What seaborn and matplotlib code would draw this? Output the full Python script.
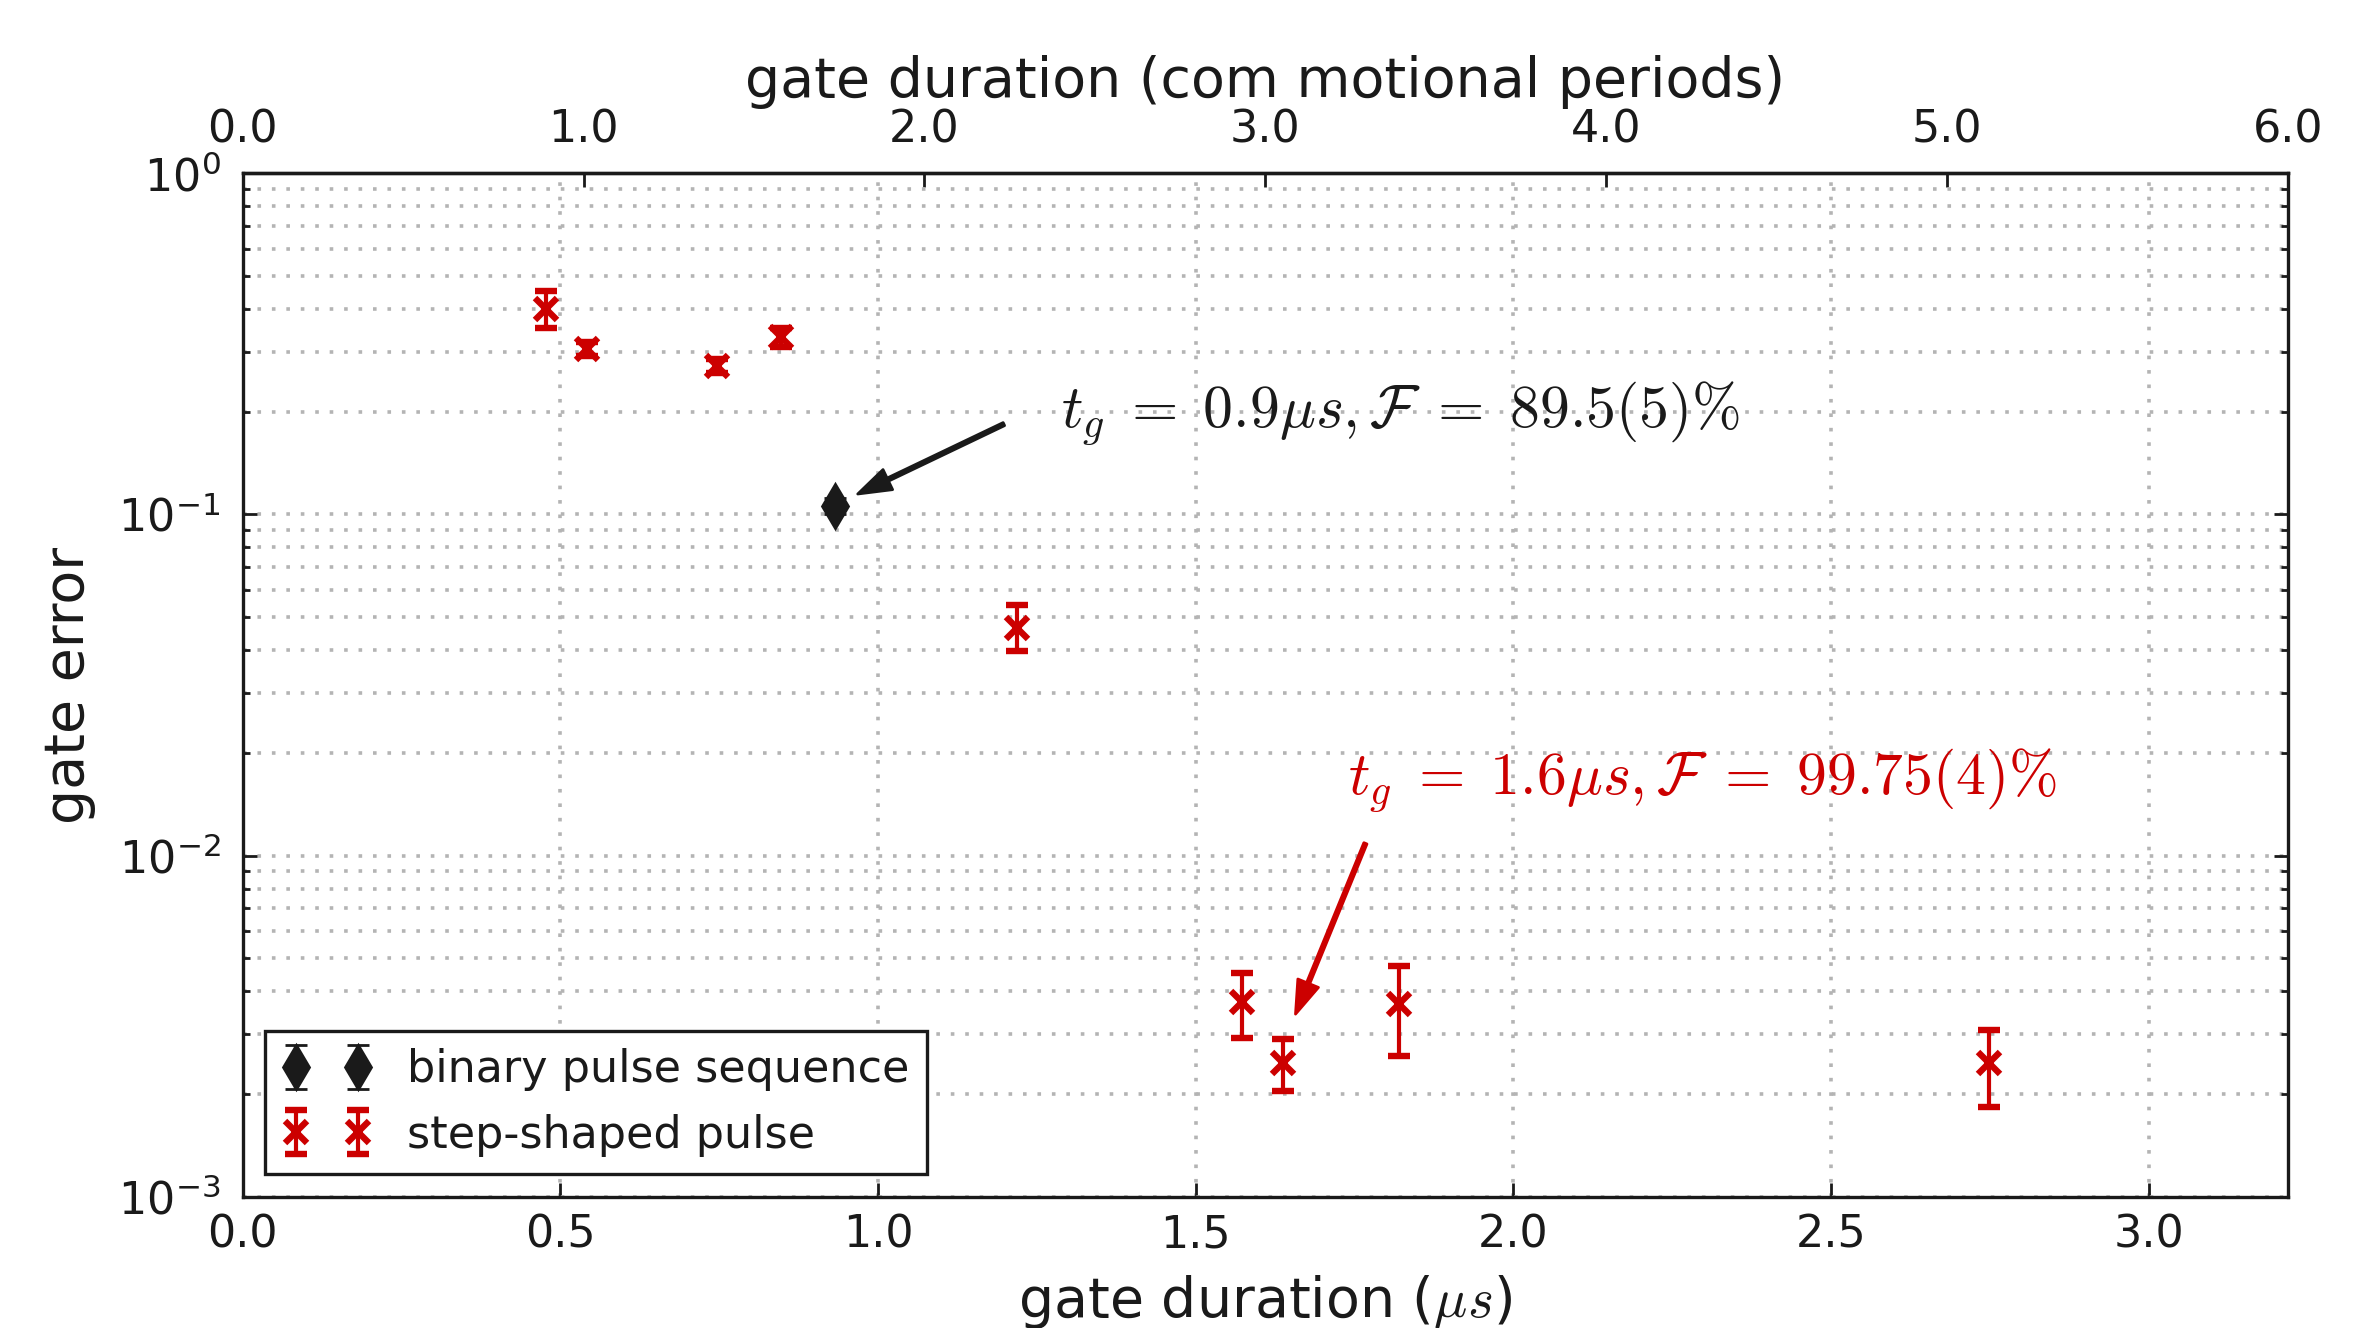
import numpy as np
import matplotlib
matplotlib.use("Agg")
import matplotlib.pyplot as plt
import matplotlib.ticker as mticker
import seaborn as sns

# binary pulse sequence (gate duration in us, gate error, error bar ends)
bin_t = [0.932]
bin_err = [0.1056]
bin_lo = [0.1000]
bin_hi = [0.1115]

# step-shaped pulse
step_t = [0.478, 0.542, 0.746, 0.848, 1.219, 1.573, 1.637, 1.820, 2.748]
step_err = [0.399, 0.306, 0.272, 0.331, 0.0464, 0.00372, 0.00247, 0.00366, 0.00247]
step_lo = [0.351, 0.292, 0.260, 0.3094, 0.0398, 0.00292, 0.00204, 0.00259, 0.00183]
step_hi = [0.452, 0.321, 0.285, 0.3517, 0.0543, 0.00454, 0.00289, 0.00474, 0.00309]

t_max = 3.219        # us at right edge
periods_max = 6.0    # com motional periods at right edge
top_ticks = [0, 1, 2, 3, 4, 5, 6]

red = "#cc0000"

sns.set_theme(style="white")
plt.rcParams["font.family"] = ["DejaVu Sans"]
plt.rcParams["mathtext.fontset"] = "cm"
plt.rcParams["axes.unicode_minus"] = False
plt.rcParams["text.color"] = "k"
plt.rcParams["axes.labelcolor"] = "k"
plt.rcParams["xtick.color"] = "k"
plt.rcParams["ytick.color"] = "k"

fig = plt.figure(figsize=(11.87, 6.64), dpi=200)
ax = fig.add_axes([0.10223, 0.09887, 0.86154, 0.77063])

def yerr(y, lo, hi):
    y = np.array(y); return [y - np.array(lo), np.array(hi) - y]

ax.errorbar(bin_t, bin_err, yerr=yerr(bin_err, bin_lo, bin_hi), fmt="d", color="k",
            ms=11, mew=1, ecolor="k", elinewidth=1.5, capsize=4, capthick=1.5,
            label="binary pulse sequence", zorder=3)
ax.errorbar(step_t, step_err, yerr=yerr(step_err, step_lo, step_hi), fmt="x", color=red,
            ms=8, mew=2.3, ecolor=red, elinewidth=1.5, capsize=4, capthick=1.5,
            label="step-shaped pulse", zorder=3)

ax.set_yscale("log")
ax.set_ylim(1e-3, 1)
ax.set_xlim(0, t_max)
ax.xaxis.set_major_locator(mticker.MultipleLocator(0.5))
ax.xaxis.set_major_formatter(mticker.FormatStrFormatter("%.1f"))

ax.tick_params(which="both", direction="in", top=False, right=True, left=True, bottom=True,
               labelsize=16, colors="k")
ax.tick_params(which="major", length=5, width=1)
ax.tick_params(which="minor", length=2.5, width=1)
ax.tick_params(axis="x", pad=6)
ax.tick_params(axis="y", pad=8)

for s in ax.spines.values():
    s.set_color("k")
    s.set_linewidth(1.2)

grid_kw = dict(ls=(0, (1, 3)), color="#b4b4b4", lw=1.3)
ax.grid(True, which="both", axis="y", **grid_kw)
ax.grid(True, which="major", axis="x", **grid_kw)

secax = ax.secondary_xaxis("top", functions=(lambda x: x * periods_max / t_max,
                                             lambda p: p * t_max / periods_max))
secax.set_xticks(top_ticks)
secax.xaxis.set_major_formatter(mticker.FormatStrFormatter("%.1f"))
secax.tick_params(direction="in", length=5, width=1, labelsize=16, pad=8, colors="k")
secax.spines["top"].set_linewidth(1.2)
secax.spines["top"].set_color("k")
secax.set_xlabel("gate duration (com motional periods)", fontsize=20, labelpad=4)

ax.set_xlabel(r"gate duration ($\mu s$)", fontsize=20, labelpad=6)
ax.set_ylabel("gate error", fontsize=20, labelpad=8)

ax.annotate("", xy=(0.968, 0.1148), xytext=(1.198, 0.184),
            arrowprops=dict(facecolor="k", edgecolor="k", width=1.2, headwidth=8,
                            headlength=12, shrink=0))
ax.text(1.288, 0.198, r"$t_g\;=\;0.9\mu s, \mathcal{F}\;=\;89.5(5)\%$", fontsize=21.5,
        va="center", ha="left", color="k")

ax.annotate("", xy=(1.657, 0.00343), xytext=(1.767, 0.01086),
            arrowprops=dict(facecolor=red, edgecolor=red, width=1.2, headwidth=8,
                            headlength=12, shrink=0))
ax.text(1.739, 0.01665, r"$t_g\;=\;1.6\mu s, \mathcal{F}\;=\;99.75(4)\%$", fontsize=21.5,
        va="center", ha="left", color=red)

leg = ax.legend(loc="lower left", numpoints=2, fontsize=16, frameon=True, fancybox=False,
                edgecolor="k", framealpha=1, borderaxespad=0.5)
leg.get_frame().set_linewidth(1.2)

fig.savefig("out.png", dpi=200, facecolor="white")
